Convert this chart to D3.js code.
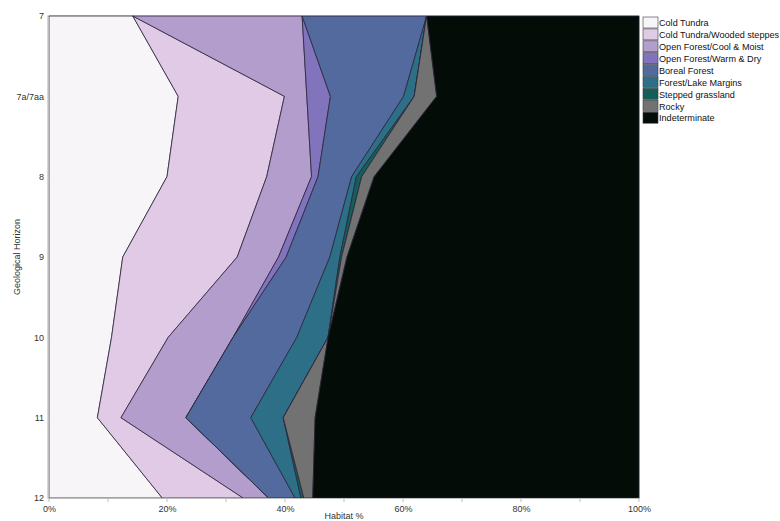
<!DOCTYPE html>
<html>
<head>
<meta charset="utf-8">
<script src="https://cdn.jsdelivr.net/npm/d3@7"></script>
<style>
  html, body { margin: 0; padding: 0; background: #fff; }
  svg { display: block; font-family: "Liberation Sans", Arial, sans-serif; }
</style>
</head>
<body>
<svg id="chart" width="780" height="521"></svg>
<script>
// Geological horizons, top to bottom
const horizons = ["7", "7a/7aa", "8", "9", "10", "11", "12"];

// Habitat share (%) at each horizon
const coldTundra    = [14.2, 21.9, 20.0, 12.5, 10.6, 8.2, 19.2];
const woodedSteppes = [0, 18.0, 16.9, 19.4, 9.6, 4.0, 13.7];
const coolMoist     = [28.7, 3.8, 7.6, 7.0, 11.0, 11.0, 4.3];
const warmDry       = [0, 4.0, 1.1, 1.3, 0, 0, 0];
const boreal        = [21.1, 12.4, 5.7, 7.4, 10.8, 11.0, 4.5];
const lakeMargins   = [0, 1.8, 0.8, 1.7, 5.3, 5.5, 1.0];
const grassland     = [0, 0, 0.9, 0.3, 0, 0, 0.5];
const rocky         = [0, 3.8, 2.1, 0.9, 0, 5.4, 1.5];
const indeterminate = [36.0, 34.3, 44.9, 49.5, 52.7, 54.9, 55.3];

const seriesNames = [
  "Cold Tundra", "Cold Tundra/Wooded steppes", "Open Forest/Cool & Moist",
  "Open Forest/Warm & Dry", "Boreal Forest", "Forest/Lake Margins",
  "Stepped grassland", "Rocky", "Indeterminate"
];
const seriesValues = [coldTundra, woodedSteppes, coolMoist, warmDry, boreal,
  lakeMargins, grassland, rocky, indeterminate];
const seriesColors = ["#f7f5f8", "#e0cae6", "#b39dcc", "#8273bd", "#536a9e",
  "#2d6f87", "#155e5a", "#727272", "#030c07"];

const xTicks = [0, 20, 40, 60, 80, 100];
const xMinorTicks = [10, 30, 50, 70, 90];

// Rows for d3.stack
const rows = horizons.map((h, i) => {
  const r = { horizon: h };
  seriesNames.forEach((n, k) => { r[n] = seriesValues[k][i]; });
  return r;
});

const svg = d3.select("#chart");
const plotLeft = 49, plotRight = 639, plotTop = 16, plotBottom = 498;

const x = d3.scaleLinear().domain([0, 100]).range([plotLeft, plotRight]);
const y = d3.scalePoint().domain(horizons).range([plotTop, plotBottom]);

const stacked = d3.stack().keys(seriesNames)(rows);

const area = d3.area()
  .y(d => y(d.data.horizon))
  .x0(d => x(d[0]))
  .x1(d => x(d[1]))
  .curve(d3.curveLinear);

// Plot frame
svg.append("rect")
  .attr("x", plotLeft - 1).attr("y", plotTop)
  .attr("width", plotRight - plotLeft + 1).attr("height", plotBottom - plotTop)
  .attr("fill", "none").attr("stroke", "#cfcfcf").attr("stroke-width", 1.5);

svg.append("g").selectAll("path")
  .data(stacked)
  .join("path")
  .attr("d", area)
  .attr("fill", (d, i) => seriesColors[i])
  .attr("stroke", "#2a2438")
  .attr("stroke-width", 0.8)
  .attr("stroke-linejoin", "miter");

// Axes
const yAxis = d3.axisLeft(y).tickSize(0).tickPadding(4);
const gy = svg.append("g").attr("transform", `translate(${plotLeft - 1},0)`).call(yAxis);
gy.select(".domain").attr("stroke", "#bdbdbd").attr("stroke-width", 1.2);
gy.selectAll("text").attr("font-size", 9).attr("fill", "#333");

const xAxis = d3.axisBottom(x).tickValues(xTicks).tickFormat(d => d + "%")
  .tickSize(0).tickPadding(8);
const gx = svg.append("g").attr("transform", `translate(0,${plotBottom})`).call(xAxis);
gx.select(".domain").attr("stroke", "#bdbdbd").attr("stroke-width", 1.2);
gx.selectAll("text").attr("font-size", 9).attr("fill", "#333");

svg.append("g").selectAll("line")
  .data(xTicks.concat(xMinorTicks))
  .join("line")
  .attr("x1", d => x(d)).attr("x2", d => x(d))
  .attr("y1", plotBottom).attr("y2", plotBottom + 4)
  .attr("stroke", "#bdbdbd").attr("stroke-width", 1);

// Axis titles
svg.append("text")
  .attr("x", (plotLeft + plotRight) / 2).attr("y", 519)
  .attr("text-anchor", "middle")
  .attr("font-size", 9).attr("fill", "#333")
  .text("Habitat %");

svg.append("text")
  .attr("transform", `translate(20,${(plotTop + plotBottom) / 2}) rotate(-90)`)
  .attr("text-anchor", "middle")
  .attr("font-size", 9).attr("fill", "#333")
  .text("Geological Horizon");

// Legend
const legend = svg.append("g").attr("transform", "translate(643,17)");
const item = legend.selectAll("g")
  .data(seriesNames)
  .join("g")
  .attr("transform", (d, i) => `translate(0,${i * 11.9})`);
item.append("rect")
  .attr("x", 0).attr("y", 0).attr("width", 15).attr("height", 11)
  .attr("fill", (d, i) => seriesColors[i])
  .attr("stroke", "#3a3a3a").attr("stroke-width", 0.6);
item.append("text")
  .attr("x", 16).attr("y", 9.3)
  .attr("font-size", 9.1).attr("fill", "#111")
  .text(d => d);
</script>
</body>
</html>
